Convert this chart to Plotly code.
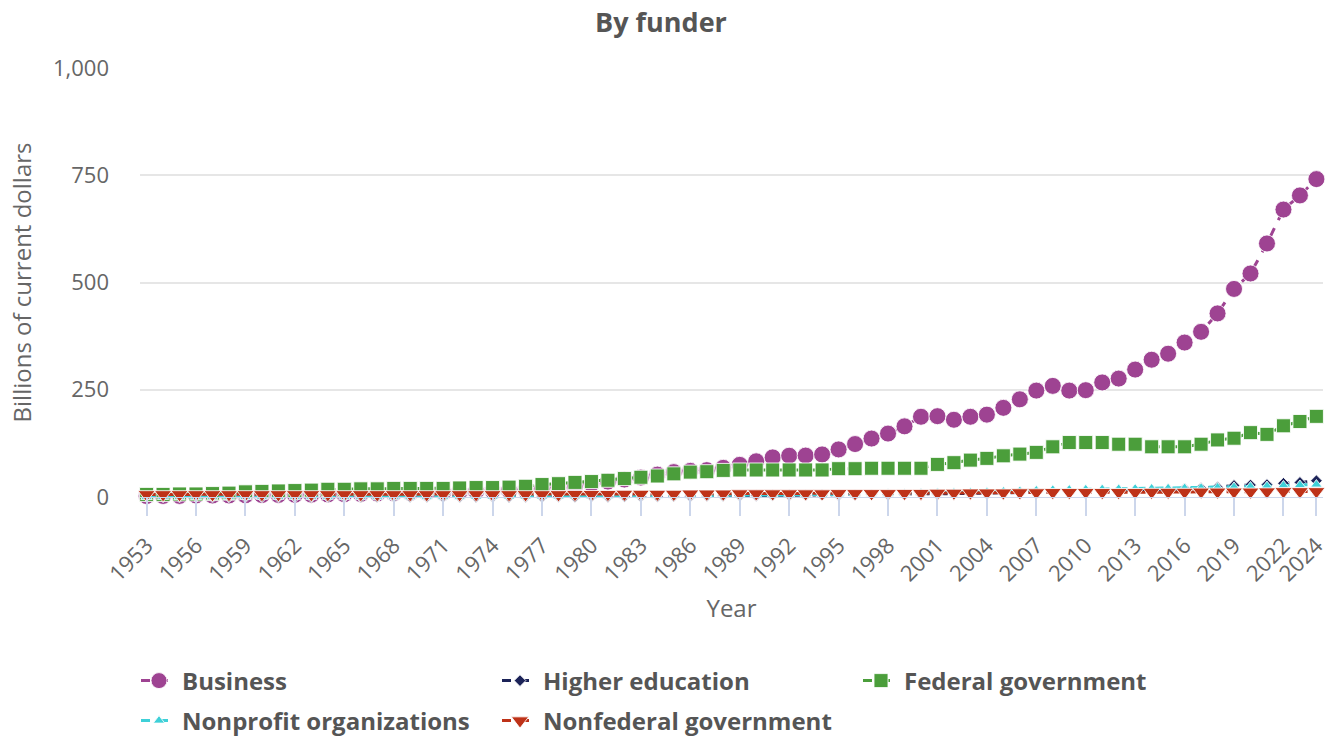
import plotly.graph_objects as go

years = list(range(1953, 2025))

business = [
    2.2, 2.4, 2.5, 3.4, 3.4, 3.6, 4.0,
    4.5, 4.8, 5.1, 5.5, 5.9, 6.4, 7.2, 8.0, 8.9, 9.9,
    10.4, 10.8, 11.7, 13.3, 14.9, 15.8, 17.7, 19.3, 22.1, 25.7,
    30.9, 35.9, 40.7, 45.3, 52.2, 58.0, 61.0, 62.6, 68.0, 75.0,
    83.2, 92.3, 96.2, 96.5, 99.2, 110.9, 123.4, 136.2, 147.8, 164.7,
    187.0, 188.4, 180.0, 187.0, 192.0, 207.8, 227.7, 248.0, 259.0, 248.0,
    249.0, 267.0, 276.0, 297.0, 320.0, 334.0, 360.0, 385.0, 428.0, 485.0,
    521.0, 591.0, 670.0, 703.0, 741.0,
]

higher_education = [
    0.1, 0.1, 0.1, 0.1, 0.1, 0.1, 0.1,
    0.1, 0.1, 0.1, 0.2, 0.2, 0.2, 0.2, 0.2, 0.2, 0.3,
    0.3, 0.3, 0.3, 0.4, 0.4, 0.4, 0.5, 0.5, 0.6, 0.7,
    0.9, 1.1, 1.2, 1.4, 1.6, 1.7, 2.0, 2.3, 2.5, 2.9,
    3.2, 3.6, 3.9, 4.1, 4.3, 4.6, 4.9, 5.2, 5.6, 6.0,
    6.6, 7.2, 7.6, 8.3, 9.2, 10.3, 10.9, 11.4, 11.9, 12.1,
    12.9, 13.9, 14.9, 15.4, 16.0, 17.0, 19.0, 21.0, 23.0, 27.0,
    28.0, 29.0, 32.0, 34.0, 38.0,
]

federal_government = [
    6, 6, 7, 7, 8, 9, 12,
    13, 14, 15, 16, 18, 18, 19, 19, 20, 20,
    20, 20, 21, 22, 22, 23, 25, 29, 31, 34,
    36, 39, 43, 46, 49, 54, 58, 59, 62, 63,
    63, 63, 63, 63, 63, 66, 66, 67, 67, 67,
    67, 76, 80, 86, 90, 96, 100, 104, 117, 127,
    127, 127, 123, 123, 117, 117, 117, 123, 133, 137,
    150, 146, 166, 176, 188,
]

nonprofit_organizations = [
    0.2, 0.2, 0.2, 0.2, 0.3, 0.3, 0.3,
    0.3, 0.4, 0.4, 0.4, 0.5, 0.5, 0.5, 0.6, 0.6, 0.7,
    0.7, 0.8, 0.8, 0.9, 0.9, 1.0, 1.1, 1.2, 1.3, 1.5,
    1.6, 1.8, 2.0, 2.2, 2.5, 2.7, 3.0, 3.3, 3.6, 3.9,
    4.2, 4.6, 5.0, 5.4, 5.8, 6.2, 6.7, 7.2, 7.8, 8.4,
    9.0, 9.8, 10.5, 11.3, 12.0, 13.0, 14.0, 15.5, 17.0, 17.5,
    18.0, 18.5, 19.0, 19.5, 20.0, 20.5, 21.0, 21.5, 22.5, 23.5,
    24.5, 25.5, 27.0, 28.0, 29.0,
]

nonfederal_government = [
    6, 6, 6, 6, 6, 6, 6,
    6, 6, 6, 6, 6, 6, 6, 6, 6, 6,
    6, 6, 6, 6, 6, 6, 6, 6, 6, 6.5,
    6.5, 6.5, 7, 7, 7, 7, 7.5, 7.5, 7.5, 8,
    8, 8, 8, 8, 8, 8.5, 8.5, 8.5, 8.5, 9,
    9, 9.5, 9.5, 10, 10, 10, 10.5, 10.5, 11, 11,
    11, 11, 11, 11, 11.5, 11.5, 11.5, 12, 12, 12,
    12, 12.5, 13, 13, 13,
]

tick_years = [1953, 1956, 1959, 1962, 1965, 1968, 1971, 1974, 1977, 1980,
              1983, 1986, 1989, 1992, 1995, 1998, 2001, 2004, 2007, 2010,
              2013, 2016, 2019, 2022, 2024]
tick_labels = [str(y) for y in tick_years]

series = [
    ("Business", business, "#9E4392", "circle", 17, "legend"),
    ("Higher education", higher_education, "#1C2358", "diamond", 9, "legend"),
    ("Federal government", federal_government, "#4B9E3B", "square", 14, "legend"),
    ("Nonprofit organizations", nonprofit_organizations, "#3ED0D8", "triangle-up", 10, "legend2"),
    ("Nonfederal government", nonfederal_government, "#BE3218", "triangle-down", 15, "legend2"),
]

fig = go.Figure()
for name, vals, color, symbol, size, leg in series:
    fig.add_trace(go.Scatter(
        x=years, y=vals, name=name, mode="lines+markers",
        line=dict(color=color, width=3, dash="dash"),
        marker=dict(symbol=symbol, size=size, color=color,
                    line=dict(color="rgba(255,255,255,0.85)", width=1)),
        cliponaxis=False, legend=leg,
    ))

font_family = "Open Sans"
legend_common = dict(
    orientation="h", xref="container", yref="container",
    x=136 / 1334, xanchor="left", yanchor="middle",
    font=dict(family=font_family, size=24, color="#555555", weight="bold"),
    entrywidth=310, entrywidthmode="pixels", itemwidth=36,
    bgcolor="rgba(0,0,0,0)",
)

fig.update_layout(
    width=1334, height=737,
    paper_bgcolor="white", plot_bgcolor="white",
    margin=dict(l=140, r=11, t=68, b=240, autoexpand=False),
    font=dict(family=font_family, color="#666666"),
    title=dict(text="<b>By funder</b>", x=661 / 1334, xref="container", xanchor="center",
               y=1 - 23 / 737, yref="container", yanchor="middle",
               font=dict(family=font_family, size=27, color="#555555")),
    legend=dict(legend_common, y=1 - 681 / 737),
    legend2=dict(legend_common, y=1 - 721 / 737),
    xaxis=dict(
        range=[1952.6, 2024.4], tickvals=tick_years, ticktext=tick_labels,
        tickangle=-45, tickfont=dict(size=22, color="#666666"),
        showgrid=False, zeroline=False,
        showline=True, linecolor="#ccd6eb", linewidth=1,
        ticks="outside", ticklen=18, tickwidth=2, tickcolor="#ccd6eb",
        ticklabelstandoff=8,
        title=dict(text="Year", font=dict(size=24, color="#666666"), standoff=14),
    ),
    yaxis=dict(
        range=[0, 1000], tickvals=[0, 250, 500, 750, 1000],
        tickformat=",", tickfont=dict(size=22, color="#666666"),
        gridcolor="#e6e6e6", gridwidth=1.5, zeroline=False, showline=False,
        ticklabelstandoff=30,
        title=dict(text="Billions of current dollars", font=dict(size=24, color="#666666"), standoff=14),
    ),
)

fig.write_html(
    "out.html",
    config={"displayModeBar": False},
    post_script="document.body.style.margin='0';document.body.style.overflow='hidden';",
)
